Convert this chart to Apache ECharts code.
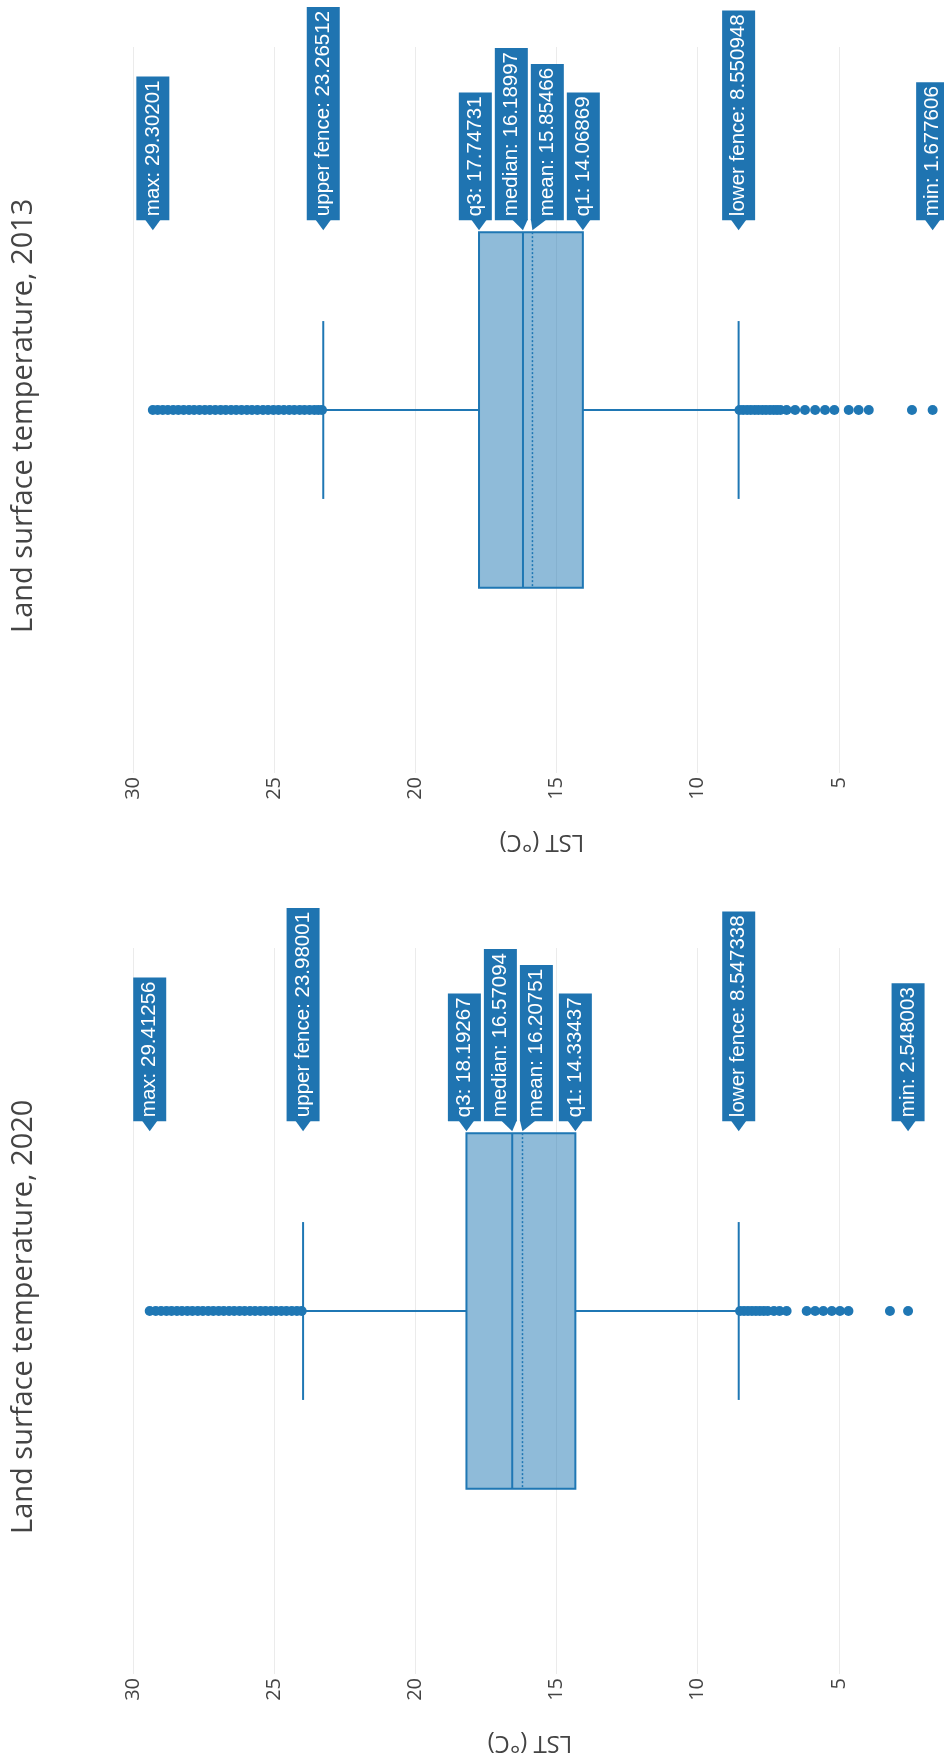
<!DOCTYPE html>
<html>
<head>
<meta charset="utf-8">
<title>Land surface temperature</title>
<script src="https://cdn.jsdelivr.net/npm/echarts@6/dist/echarts.min.js"></script>
<style>
  html, body { margin: 0; padding: 0; background: #ffffff; }
  #chart { width: 944px; height: 1759px; }
</style>
</head>
<body>
<div id="chart"></div>
<script>
// ---- data -------------------------------------------------------------
const PANEL_TITLES = ['Land surface temperature, 2013', 'Land surface temperature, 2020'];
const AXIS_TITLE = 'LST (°C)';
const LST_TICKS = [5, 10, 15, 20, 25, 30];

const STAT_NAMES = ['max', 'upper fence', 'q3', 'median', 'mean', 'q1', 'lower fence', 'min'];
const STATS_2013 = [29.30201, 23.26512, 17.74731, 16.18997, 15.85466, 14.06869, 8.550948, 1.677606];
const STATS_2020 = [29.41256, 23.98001, 18.19267, 16.57094, 16.20751, 14.33437, 8.547338, 2.548003];

const OUTLIERS_2013 = [
  23.31, 23.44, 23.58, 23.75, 23.93, 24.1, 24.29, 24.47, 24.66, 24.85, 25.03, 25.22,
  25.4, 25.6, 25.79, 25.97, 26.16, 26.35, 26.53, 26.72, 26.9, 27.09, 27.28, 27.46,
  27.65, 27.84, 28.02, 28.21, 28.4, 28.58, 28.77, 28.95, 29.13, 29.30201,
  8.52, 8.39, 8.25, 8.12, 7.98, 7.85, 7.71, 7.58, 7.44, 7.31, 7.19, 7.07,
  6.85, 6.55, 6.2, 5.84, 5.49, 5.16, 4.65, 4.3, 3.94, 2.41, 1.677606
];
const OUTLIERS_2020 = [
  24.03, 24.2, 24.38, 24.57, 24.75, 24.94, 25.12, 25.31, 25.49, 25.68, 25.86, 26.05,
  26.23, 26.42, 26.6, 26.79, 26.97, 27.16, 27.34, 27.53, 27.71, 27.9, 28.08, 28.27,
  28.45, 28.64, 28.82, 29.01, 29.2, 29.41256,
  8.5, 8.36, 8.22, 8.08, 7.94, 7.8, 7.66, 7.52, 7.3, 7.1, 6.85,
  6.14, 5.84, 5.55, 5.25, 4.96, 4.66, 3.19, 2.548003
];

// ---- styling ----------------------------------------------------------
const BLUE = '#1f77b4';
const BOX_FILL = 'rgba(31,119,180,0.5)';
const LABEL_BG = '#1f74b1';
const TEXT_GREY = '#444444';
const SANS = "'Open Sans', 'Noto Sans', sans-serif";
const HOVER_FONT = "'Liberation Sans', Arial, sans-serif";
const BOX_FRACTION = 0.49;   // box thickness as share of the category band
const LABEL_THICK = 33;      // label box thickness
const LABEL_PITCH = 36;      // minimum centre spacing between neighbouring labels
const LABEL_PAD = 4;
const ARROW_LEN = 10;
const ARROW_HALF = 8;

const panels = [
  { stats: STATS_2013, outliers: OUTLIERS_2013, title: PANEL_TITLES[0], top: 47, axisTitleX: 542 },
  { stats: STATS_2020, outliers: OUTLIERS_2020, title: PANEL_TITLES[1], top: 948, axisTitleX: 530 }
];
const GRID_HEIGHT = 726;

// Push overlapping labels apart: overlapping neighbours are merged into a
// group that is laid out contiguously around the mean of its targets.
function spreadLabels(targets, pitch) {
  const order = targets.map((v, i) => i).sort((a, b) => targets[a] - targets[b]);
  let groups = order.map(i => ({ members: [i], sum: targets[i] }));
  const centre = g => g.sum / g.members.length;
  let merged = true;
  while (merged) {
    merged = false;
    for (let k = 0; k < groups.length - 1; k++) {
      const a = groups[k], b = groups[k + 1];
      const aEnd = centre(a) + (a.members.length - 1) * pitch / 2;
      const bStart = centre(b) - (b.members.length - 1) * pitch / 2;
      if (bStart - aEnd < pitch - 1e-6) {
        groups.splice(k, 2, { members: a.members.concat(b.members), sum: a.sum + b.sum });
        merged = true;
        break;
      }
    }
  }
  const out = new Array(targets.length);
  groups.forEach(g => {
    const start = centre(g) - (g.members.length - 1) * pitch / 2;
    g.members.forEach((idx, j) => { out[idx] = start + j * pitch; });
  });
  return out;
}

function boxRenderer(stats) {
  const [, upper, q3, median, mean, q1, lower] = stats;
  return function (params, api) {
    const cy = api.coord([median, 0])[1];
    const half = api.size([0, 1])[1] * BOX_FRACTION / 2;
    const capHalf = half / 2;
    const x = v => api.coord([v, 0])[0];
    const seg = (x1, y1, x2, y2, extra) => ({
      type: 'line',
      shape: { x1: x1, y1: y1, x2: x2, y2: y2 },
      style: Object.assign({ stroke: BLUE, lineWidth: 2 }, extra || {})
    });
    const xq3 = x(q3), xq1 = x(q1);
    return {
      type: 'group',
      children: [
        seg(x(upper), cy, xq3, cy),
        seg(xq1, cy, x(lower), cy),
        seg(x(upper), cy - capHalf, x(upper), cy + capHalf),
        seg(x(lower), cy - capHalf, x(lower), cy + capHalf),
        {
          type: 'rect',
          shape: { x: Math.min(xq3, xq1), y: cy - half, width: Math.abs(xq1 - xq3), height: 2 * half },
          style: { fill: BOX_FILL, stroke: BLUE, lineWidth: 2 }
        },
        seg(x(median), cy - half, x(median), cy + half),
        seg(x(mean), cy - half, x(mean), cy + half, { lineDash: [2, 2], lineWidth: 1.5 })
      ]
    };
  };
}

function labelRenderer(stats) {
  return function (params, api) {
    const i = params.dataIndex;
    const cy = api.coord([stats[0], 0])[1];
    const half = api.size([0, 1])[1] * BOX_FRACTION / 2;
    const tipY = cy - half - 2;
    const baseY = tipY - ARROW_LEN;
    const targets = stats.map(v => api.coord([v, 0])[0]);
    const centres = spreadLabels(targets, LABEL_PITCH);
    const ax = targets[i], cx = centres[i];
    const hw = LABEL_THICK / 2;
    const bx = Math.min(Math.max(ax, cx - hw + ARROW_HALF), cx + hw - ARROW_HALF);
    return {
      type: 'group',
      children: [
        {
          type: 'polygon',
          shape: { points: [[bx - ARROW_HALF, baseY - 1], [bx + ARROW_HALF, baseY - 1], [ax, tipY]] },
          style: { fill: LABEL_BG }
        },
        {
          type: 'text',
          x: cx,
          y: baseY,
          rotation: Math.PI / 2,
          style: {
            text: STAT_NAMES[i] + ': ' + stats[i],
            fill: '#ffffff',
            fontSize: 20.5,
            fontFamily: HOVER_FONT,
            align: 'left',
            verticalAlign: 'middle',
            lineHeight: 25,
            backgroundColor: LABEL_BG,
            padding: [4, LABEL_PAD, 4, LABEL_PAD]
          }
        }
      ]
    };
  };
}

const grids = [], xAxes = [], yAxes = [], series = [], graphics = [];

panels.forEach((p, k) => {
  grids.push({ left: -8, right: -36, top: p.top, height: GRID_HEIGHT, containLabel: false, outerBoundsMode: 'none' });
  xAxes.push({
    gridIndex: k,
    type: 'value',
    inverse: true,
    min: 0,
    max: 35,
    interval: 5,
    axisLine: { show: false },
    axisTick: { show: false },
    splitLine: { show: true, lineStyle: { color: '#ebebeb', width: 1 } },
    axisLabel: {
      rotate: 90,
      margin: 4,
      color: TEXT_GREY,
      fontSize: 20,
      fontFamily: SANS,
      formatter: v => (LST_TICKS.indexOf(v) >= 0 ? String(v) : '')
    }
  });
  yAxes.push({ gridIndex: k, type: 'category', data: ['LST'], show: false });

  series.push({
    type: 'custom',
    xAxisIndex: k,
    yAxisIndex: k,
    z: 2,
    silent: true,
    renderItem: boxRenderer(p.stats),
    data: [[p.stats[3], 0]]
  });
  series.push({
    type: 'scatter',
    xAxisIndex: k,
    yAxisIndex: k,
    z: 3,
    silent: true,
    symbol: 'circle',
    symbolSize: 10,
    itemStyle: { color: BLUE, opacity: 1 },
    data: p.outliers.map(v => [v, 0])
  });
  series.push({
    type: 'custom',
    xAxisIndex: k,
    yAxisIndex: k,
    z: 5,
    silent: true,
    renderItem: labelRenderer(p.stats),
    data: p.stats.map(v => [v, 0])
  });

  graphics.push({
    type: 'text',
    x: 24,
    y: p.top + 586,
    rotation: Math.PI / 2,
    style: { text: p.title, fill: TEXT_GREY, fontSize: 29, fontFamily: SANS, align: 'left', verticalAlign: 'middle' }
  });
  graphics.push({
    type: 'text',
    x: p.axisTitleX,
    y: p.top + GRID_HEIGHT + 69,
    rotation: Math.PI,
    style: { text: AXIS_TITLE, fill: TEXT_GREY, fontSize: 24, fontFamily: SANS, align: 'center', verticalAlign: 'middle' }
  });
});

const chart = echarts.init(document.getElementById('chart'), null, { renderer: 'canvas' });
chart.setOption({
  animation: false,
  backgroundColor: '#ffffff',
  grid: grids,
  xAxis: xAxes,
  yAxis: yAxes,
  series: series,
  graphic: graphics
});
</script>
</body>
</html>
